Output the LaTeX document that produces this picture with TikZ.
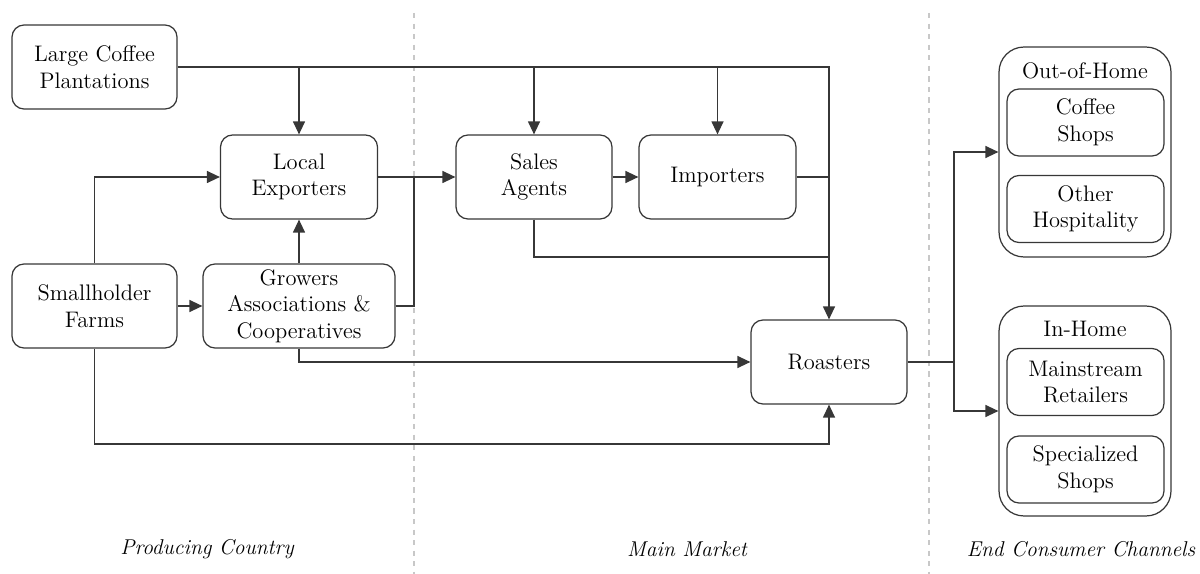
\documentclass[tikz,border=0pt]{standalone}
\usepackage{fontspec}
\usetikzlibrary{arrows.meta,positioning}
\definecolor{LineGray}{RGB}{55,55,55}
\definecolor{SepGray}{RGB}{200,200,200}
\tikzset{
  cbox/.style={draw=LineGray,fill=white,rounded corners=0.24cm,
               minimum height=1.68cm,inner sep=0pt,align=center,
               font=\fontsize{12.8}{15.2}\selectfont,line width=0.7pt},
  ibox/.style={cbox,minimum width=3.14cm,minimum height=1.34cm},
  obox/.style={draw=LineGray,rounded corners=0.5cm,minimum width=3.44cm,
               minimum height=4.2cm,inner sep=0pt,line width=0.7pt},
  ttl/.style={font=\fontsize{12.8}{15.2}\selectfont},
  zone/.style={font=\fontsize{12.2}{15}\selectfont\itshape},
  sep/.style={SepGray,dashed,line width=0.6pt},
  arr/.style={-{Triangle[length=0.26cm,width=0.24cm]},LineGray,line width=0.7pt},
  ln/.style={LineGray,line width=0.7pt},
}
\begin{document}
\begin{tikzpicture}[x=0.02cm,y=-0.02cm]
  \useasboundingbox (0,0) rectangle (1200,574);
  % region separators
  \draw[sep] (414,13) -- (414,574);
  \draw[sep] (929,13) -- (929,574);

  \node[cbox,minimum width=3.3cm] (lcp) at (94.5,67) {Large Coffee\\Plantations};
  \node[cbox,minimum width=3.14cm] (le) at (299,177) {Local\\Exporters};
  \node[cbox,minimum width=3.3cm] (sf) at (94.5,306) {Smallholder\\Farms};
  \node[cbox,minimum width=3.84cm] (ga) at (299,306) {Growers\\Associations \&\\Cooperatives};
  \node[cbox,minimum width=3.12cm] (sa) at (534,177) {Sales\\Agents};
  \node[cbox,minimum width=3.14cm] (im) at (717.5,177) {Importers};
  \node[cbox,minimum width=3.12cm] (ro) at (829,362) {Roasters};

  \node[obox] (ooh) at (1085,152) {};
  \node[ttl] (oohl) at (1085,71) {Out-of-Home};
  \node[ibox] (cs) at (1085.5,122.5) {Coffee\\Shops};
  \node[ibox] (oh) at (1085.5,209) {Other\\Hospitality};

  \node[obox] (ih) at (1085,411) {};
  \node[ttl] (ihl) at (1085,329) {In-Home};
  \node[ibox] (mr) at (1085.5,382) {Mainstream\\Retailers};
  \node[ibox] (ss) at (1085.5,469.5) {Specialized\\Shops};

  \node[zone] (pc) at (207,549) {Producing Country};
  \node[zone] (mm) at (687,549) {Main Market};
  \node[zone] (ec) at (1081,549) {End Consumer Channels};

  \coordinate (j1) at (414,177);
  \coordinate (j2) at (829,257);
  \coordinate (j3) at (829,444);
  \coordinate (j4) at (954,362);

  % plantations
  \draw[arr] (lcp.east) -| (ro.north);
  \draw[arr] (le.north |- lcp.east) -- (le.north);
  \draw[arr] (sa.north |- lcp.east) -- (sa.north);
  \draw[arr] (im.north |- lcp.east) -- (im.north);
  % smallholders
  \draw[arr] (sf.north) |- (le.west);
  \draw[arr] (sf) -- (ga);
  \draw[arr] (sf.south) |- (j3) -- (ro.south);
  % cooperatives
  \draw[arr] (ga) -- (le);
  \draw[ln] (ga.east) -| (j1);
  \draw[arr] (ga.south) |- (ro.west);
  % market
  \draw[arr] (le) -- (sa);
  \draw[arr] (sa) -- (im);
  \draw[ln] (im.east) -- (im.east -| ro.north);
  \draw[ln] (sa.south) |- (j2);
  % channels
  \draw[ln] (ro.east) -- (j4);
  \draw[arr] (j4) |- (ooh.west);
  \draw[arr] (j4) |- (ih.west);
\end{tikzpicture}
\end{document}
